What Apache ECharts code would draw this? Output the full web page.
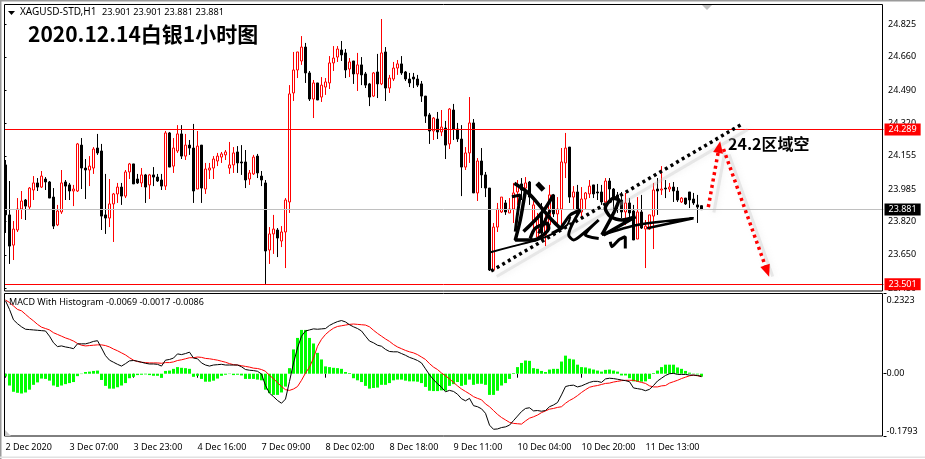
<!DOCTYPE html>
<html><head><meta charset="utf-8">
<style>html,body{margin:0;padding:0;background:#fff}#c{width:925px;height:459px}</style>
<script src="https://cdn.jsdelivr.net/npm/echarts@6/dist/echarts.min.js"></script>
</head><body><div id="c"></div>
<script>
const tickLabels=['2 Dec 2020','3 Dec 07:00','3 Dec 23:00','4 Dec 16:00','7 Dec 09:00','8 Dec 02:00','8 Dec 18:00','9 Dec 11:00','10 Dec 04:00','10 Dec 20:00','11 Dec 13:00'];
const priceTicks=[24.825,24.66,24.49,24.32,24.155,23.985,23.82,23.65,23.48];
const macdTicks=[-0.1793,0,0.2323];
const resistance=24.289, support=23.501, lastPrice=23.881;
const opens=[24.109,23.854,23.7,23.777,23.884,23.93,23.894,23.981,24.017,23.996,
24.037,24.022,23.945,23.803,23.869,24.022,24.007,23.976,23.976,24.21,
24.093,24.083,24.093,24.195,24.18,23.854,23.838,23.91,23.961,23.996,
23.95,24.073,24.114,24.037,24.017,24.058,24.007,24.058,24.047,24.032,
24.001,24.272,24.103,24.18,24.267,24.154,24.21,24.195,23.986,24.21,
23.986,24.083,24.093,24.129,24.149,24.16,24.093,24.109,24.175,24.124,
24.124,24.037,24.063,24.154,24.052,24.017,23.675,23.757,23.777,23.721,
23.767,23.92,24.476,24.593,24.639,24.71,24.578,24.445,24.527,24.455,
24.506,24.527,24.629,24.659,24.695,24.68,24.598,24.639,24.573,24.619,
24.573,24.522,24.46,24.583,24.522,24.685,24.501,24.547,24.603,24.624,
24.583,24.547,24.557,24.547,24.522,24.46,24.364,24.282,24.343,24.277,
24.297,24.216,24.389,24.292,24.241,24.098,24.17,24.323,23.966,24.129,
24.058,23.991,23.573,23.792,23.869,23.915,23.864,23.884,23.971,24.012,
23.991,24.022,23.818,23.741,23.864,23.752,23.803,23.956,23.859,23.884,
24.119,24.2,23.945,23.971,23.869,23.935,23.961,24.007,23.971,23.971,
23.92,24.027,23.986,23.956,23.93,23.869,23.915,23.874,23.731,23.869,
23.782,23.782,23.848,23.986,23.981,23.991,23.986,23.996,23.976,23.92,
23.94,23.971,23.935,23.905,23.901];
const closes=[23.854,23.695,23.782,23.884,23.925,23.899,23.991,24.017,23.996,24.052,
24.022,23.94,23.797,23.874,24.017,24.001,23.976,23.986,24.216,24.093,
24.083,24.103,24.19,24.17,23.848,23.838,23.91,23.961,23.996,23.95,
24.073,24.114,24.012,24.017,24.058,23.996,24.058,24.047,24.027,24.001,
24.272,24.098,24.195,24.267,24.154,24.21,24.195,23.976,24.205,23.991,
24.088,24.093,24.139,24.154,24.165,24.175,24.109,24.17,24.119,24.119,
24.032,24.068,24.149,24.068,24.032,23.67,23.757,23.782,23.736,23.767,
23.93,24.471,24.593,24.685,24.71,24.578,24.445,24.527,24.44,24.516,
24.532,24.629,24.654,24.7,24.67,24.593,24.634,24.573,24.619,24.568,
24.516,24.455,24.578,24.522,24.68,24.501,24.552,24.603,24.624,24.578,
24.547,24.527,24.547,24.516,24.46,24.358,24.282,24.348,24.277,24.302,
24.21,24.394,24.292,24.241,24.098,24.17,24.323,23.966,24.129,24.058,
23.991,23.573,23.792,23.884,23.945,23.869,23.884,23.966,24.007,23.981,
24.017,23.945,23.905,23.843,23.762,23.838,23.956,23.859,23.884,24.124,
24.195,23.945,23.971,23.879,23.935,23.966,24.001,23.961,23.966,23.92,
24.027,23.986,23.945,23.93,23.869,23.915,23.864,23.726,23.869,23.787,
23.797,23.854,23.981,23.976,23.986,23.986,23.996,23.976,23.93,23.94,
23.91,23.93,23.915,23.894,23.881];
const lows=[23.762,23.604,23.624,23.767,23.833,23.828,23.884,23.93,23.976,23.991,
23.981,23.94,23.782,23.797,23.859,23.93,23.93,23.899,23.971,23.986,
23.935,24.001,24.063,24.16,23.777,23.757,23.792,23.716,23.915,23.905,
23.94,24.037,24.012,24.012,23.996,23.915,23.935,24.001,24.022,23.981,
23.981,24.098,24.068,24.17,24.139,24.134,24.16,23.915,23.986,23.915,
23.961,24.037,24.037,24.103,24.119,24.134,24.063,24.068,24.068,24.058,
23.991,24.007,24.058,24.042,24.001,23.502,23.604,23.655,23.639,23.69,
23.583,23.864,24.435,24.552,24.619,24.527,24.435,24.348,24.44,24.43,
24.466,24.496,24.588,24.634,24.639,24.552,24.557,24.522,24.486,24.516,
24.501,24.409,24.455,24.45,24.516,24.435,24.476,24.537,24.568,24.568,
24.537,24.506,24.501,24.506,24.43,24.323,24.216,24.236,24.241,24.256,
24.139,24.19,24.236,24.226,23.95,24.083,24.119,23.966,23.925,23.991,
23.945,23.568,23.573,23.767,23.864,23.854,23.864,23.813,23.905,23.93,
23.966,23.905,23.762,23.736,23.726,23.695,23.803,23.843,23.792,23.792,
24.042,23.915,23.879,23.879,23.843,23.879,23.94,23.94,23.93,23.905,
23.915,23.915,23.864,23.864,23.838,23.803,23.818,23.726,23.731,23.782,
23.583,23.777,23.68,23.854,23.956,23.94,23.971,23.92,23.92,23.915,
23.905,23.889,23.905,23.813,23.881];
const highs=[24.134,24.027,23.823,23.94,23.976,23.935,23.996,24.052,24.042,24.078,
24.047,24.027,23.991,23.905,24.083,24.032,24.017,24.007,24.221,24.246,
24.139,24.154,24.2,24.267,24.216,24.063,24.037,23.966,24.017,24.017,
24.083,24.119,24.114,24.063,24.093,24.063,24.063,24.098,24.063,24.063,
24.282,24.277,24.246,24.312,24.312,24.267,24.236,24.318,24.282,24.21,
24.119,24.119,24.154,24.17,24.175,24.185,24.226,24.2,24.205,24.21,
24.185,24.083,24.16,24.165,24.078,24.032,23.792,23.854,23.787,23.797,
23.94,24.516,24.685,24.685,24.766,24.731,24.588,24.542,24.527,24.557,
24.552,24.664,24.715,24.715,24.741,24.7,24.654,24.639,24.68,24.659,
24.583,24.527,24.583,24.675,24.853,24.71,24.568,24.634,24.644,24.664,
24.588,24.578,24.578,24.568,24.537,24.46,24.374,24.353,24.379,24.389,
24.333,24.399,24.42,24.323,24.312,24.2,24.455,24.343,24.144,24.195,
24.073,23.991,23.813,23.915,23.945,23.93,23.94,24.017,24.032,24.042,
24.047,24.027,23.93,23.864,23.915,23.864,24.007,23.961,23.945,24.195,
24.272,24.2,24.001,24.007,23.996,23.971,24.032,24.007,24.012,24.007,
24.042,24.042,23.991,23.971,23.971,23.966,23.94,23.905,23.945,23.956,
23.828,23.854,24.017,24.042,24.103,24.032,24.017,24.022,23.996,23.945,
23.94,23.971,23.966,23.956,23.901];
const macdHist=[-.008,-.034,-.052,-.055,-.057,-.054,-.046,-.032,-.025,-.014,
-.015,-.02,-.034,-.038,-.034,-.03,-.027,-.024,-.007,-.001,
.005,.006,.008,.009,-.018,-.035,-.043,-.043,-.039,-.034,
-.027,-.013,-.009,-.004,-.003,-.002,-.004,-.006,-.006,-.012,
.008,.009,.014,.019,.017,.016,.014,-.009,-.006,-.015,
-.023,-.023,-.02,-.014,-.006,-.003,-.001,-.004,-.003,-.005,
-.015,-.015,-.015,-.017,-.019,-.046,-.056,-.061,-.061,-.054,
-.037,.016,.07,.103,.126,.126,.103,.087,.06,.041,
.021,.019,.017,.016,.014,.005,.002,-.013,-.019,-.024,
-.035,-.043,-.041,-.04,-.032,-.032,-.027,-.019,-.017,-.017,
-.02,-.022,-.022,-.023,-.027,-.038,-.049,-.05,-.05,-.048,
-.049,-.035,-.03,-.024,-.035,-.032,-.017,-.032,-.029,-.029,
-.032,-.061,-.061,-.049,-.034,-.027,-.015,.002,.019,.031,
.038,.037,.016,.014,.008,.005,.012,.014,.014,.035,
.052,.043,.041,.026,.019,.018,.015,.012,.009,.006,
.011,.012,.009,.006,-.005,-.005,-.013,-.022,-.023,-.023,
-.022,-.015,.002,.009,.019,.026,.026,.026,.018,.014,
.008,.003,-.001,-.002,-.0086];
const macdMain=[.21,.185,.155,.144,.135,.128,.127,.126,.125,.124,
.123,.108,.089,.078,.08,.077,.075,.072,.086,.086,
.086,.089,.093,.095,.074,.052,.039,.033,.027,.022,
.029,.037,.038,.036,.033,.03,.028,.028,.027,.022,
.039,.041,.045,.057,.055,.058,.062,.045,.043,.031,
.025,.022,.025,.026,.027,.025,.025,.025,.025,.02,
.012,.01,.009,.007,-.001,-.034,-.056,-.066,-.077,-.085,
-.073,-.022,.031,.074,.108,.123,.126,.129,.128,.129,
.13,.139,.145,.15,.153,.149,.141,.135,.13,.123,
.108,.094,.089,.082,.079,.07,.064,.063,.063,.058,
.053,.047,.043,.038,.031,.014,-.003,-.017,-.029,-.039,
-.052,-.048,-.051,-.059,-.072,-.078,-.071,-.092,-.095,-.101,
-.114,-.148,-.16,-.159,-.155,-.153,-.148,-.135,-.122,-.109,
-.1,-.098,-.107,-.106,-.108,-.106,-.095,-.09,-.083,-.061,
-.037,-.034,-.033,-.038,-.035,-.03,-.025,-.022,-.022,-.025,
-.015,-.013,-.014,-.016,-.018,-.02,-.023,-.041,-.043,-.045,
-.049,-.045,-.034,-.021,-.013,-.005,0,.001,-.002,-.002,
-.002,-.004,-.004,-.005,-.0086];
const macdSignal=[.212,.205,.195,.185,.181,.171,.161,.152,.142,.134,
.13,.126,.118,.113,.108,.103,.099,.094,.087,.082,
.08,.081,.082,.083,.083,.081,.077,.071,.066,.06,
.054,.046,.039,.035,.033,.032,.031,.031,.031,.03,
.032,.032,.034,.038,.04,.043,.046,.046,.048,.047,
.044,.043,.041,.039,.036,.033,.029,.026,.025,.023,
.021,.019,.016,.015,.012,.007,-.005,-.014,-.026,-.037,
-.046,-.048,-.044,-.037,-.019,.002,.019,.045,.079,.099,
.113,.123,.131,.136,.138,.14,.142,.143,.142,.141,
.14,.135,.125,.116,.108,.1,.093,.084,.077,.072,
.067,.063,.06,.055,.048,.041,.029,.019,.012,.002,
-.006,-.015,-.025,-.035,-.044,-.051,-.058,-.066,-.071,-.075,
-.087,-.095,-.106,-.117,-.126,-.133,-.14,-.143,-.144,-.145,
-.136,-.128,-.124,-.119,-.112,-.107,-.102,-.1,-.097,-.095,
-.085,-.077,-.071,-.063,-.054,-.046,-.039,-.036,-.034,-.031,
-.028,-.027,-.024,-.022,-.02,-.019,-.019,-.019,-.022,-.025,
-.028,-.035,-.038,-.038,-.035,-.034,-.027,-.023,-.019,-.014,
-.01,-.006,-.004,-.006,-.0069];
// hand-drawn annotations, in [slot, price]
const trendDots=[[121.9,23.568],[184.7,24.318]];
const arrowUp=[[176.2,23.894],[178.9,24.2]];
const arrowDown=[[180,24.19],[190.9,23.568]];
const signature=[
 {w:2,p:[[121.3,23.661],[127.5,23.695],[133.4,23.726],[136.7,23.752],[140.9,23.803],[141.7,23.845]]},
 {w:3.5,p:[[127.7,24.015],[131.3,23.964],[134.6,23.888],[137.1,23.828],[139.2,23.786]]},
 {w:3,p:[[127.1,23.947],[129.2,23.956],[128.4,23.845],[127.95,23.769]]},
 {w:3.5,p:[[130.45,23.973],[129.2,23.828],[127.95,23.726],[132.5,23.726],[136.3,23.786],[135.9,23.811],[132.95,23.786],[131.7,23.735]]},
 {w:3.5,p:[[137.5,23.956],[135.45,23.888],[132.95,23.828],[130,23.769]]},
 {w:5,p:[[133.4,24.015],[135,23.981]]},
 {w:3,p:[[136.7,23.879],[133.8,23.76]]},
 {w:3,p:[[137.1,23.76],[139.2,23.786],[141.7,23.854],[144.2,23.879],[141.3,23.752],[142.5,23.726],[145.5,23.769],[148.8,23.828],[145.45,23.752],[148.8,23.734]]},
 {w:3.5,p:[[149.6,23.752],[152.5,23.862],[153.8,23.93],[152.5,23.939],[150.45,23.888],[151.7,23.845],[154.6,23.828],[158,23.845],[150,23.752]]},
 {w:2.5,p:[[149.6,23.752],[158.4,23.803],[172.5,23.837],[160.9,23.786]]},
 {w:3,p:[[151.7,23.717],[152.1,23.692],[153.8,23.726],[155.45,23.743],[155.45,23.683]]}
];

const FONT='"Noto Sans"', SLOTS=220, SMALL=9;
const categories=Array.from({length:SLOTS},(_,i)=>i%16===0&&tickLabels[i/16]?tickLabels[i/16]:'');
const candle=opens.map((o,i)=>[o,closes[i],lows[i],highs[i]]);
const shadowOf=pts=>pts.map(p=>[p[0]+1.4,p[1]-0.028]);
const levelSeries=(value,color,bg)=>({type:'line',xAxisIndex:0,yAxisIndex:0,data:[],silent:true,z:3,
  markLine:{silent:true,symbol:'none',animation:false,precision:3,lineStyle:{color,width:1,type:'solid'},
   data:[{yAxis:value,label:{show:true,position:'end',distance:1,formatter:p=>Number(p.value).toFixed(3),color:'#fff',backgroundColor:bg,fontFamily:FONT,fontSize:SMALL,padding:[1,4,1,4],lineHeight:10}}]}});
const shade=(data)=>({type:'line',xAxisIndex:2,yAxisIndex:0,data:shadowOf(data),silent:true,z:6,symbol:'none',showSymbol:false,
  lineStyle:{color:'rgba(190,190,190,.3)',width:3,shadowColor:'rgba(170,170,170,.7)',shadowBlur:6}});
const annot=(data,color,extra)=>Object.assign({type:'line',xAxisIndex:2,yAxisIndex:0,data,silent:true,z:8,showSymbol:false,symbol:'none',
  lineStyle:{color,width:3.5,type:[3,3.5],cap:'butt'}},extra||{});
const head=(pt,rot)=>({value:pt,symbol:'triangle',symbolSize:[10,12],symbolRotate:rot,itemStyle:{color:'#f00'}});

const chart=echarts.init(document.getElementById('c'),null,{renderer:'canvas'});
chart.setOption({
 animation:false,backgroundColor:'#fff',
 title:[
  {text:'XAGUSD-STD,H1',left:20,top:7.5,padding:0,textStyle:{fontFamily:FONT,fontSize:10,fontWeight:'normal',color:'#000'}},
  {text:'23.901 23.901 23.881 23.881',left:102,top:8,padding:0,textStyle:{fontFamily:FONT,fontSize:9.2,fontWeight:'normal',color:'#000'}},
  {text:'2020.12.14白银1小时图',left:28,top:24,padding:0,textStyle:{fontFamily:'"Noto Sans CJK SC"',fontSize:21,fontWeight:'bold',color:'#000'}},
  {text:'24.2区域空',left:728,top:136,padding:0,textStyle:{fontFamily:'"Noto Sans CJK SC"',fontSize:16,fontWeight:'bold',color:'#000'}},
  {text:'MACD With Histogram -0.0069 -0.0017 -0.0086',left:9,top:298,padding:0,textStyle:{fontFamily:FONT,fontSize:SMALL,fontWeight:'normal',color:'#000'}}
 ],
 grid:[
  {left:3.5,top:4.5,width:880,height:286.5,containLabel:false},
  {left:3.5,top:293,width:880,height:143,containLabel:false}
 ],
 xAxis:[
  {type:'category',gridIndex:0,data:categories,axisLine:{show:false},axisTick:{show:false},axisLabel:{show:false}},
  {type:'category',gridIndex:1,data:categories,axisLine:{show:false},
   axisTick:{show:true,length:4,alignWithLabel:true,interval:i=>i%16===0&&i<=160,lineStyle:{color:'#000'}},
   axisLabel:{interval:i=>i%16===0&&i<=160,align:'left',margin:7,color:'#000',fontFamily:FONT,fontSize:SMALL,hideOverlap:false}},
  {type:'value',gridIndex:0,min:0,max:SLOTS,show:false}
 ],
 yAxis:[
  {type:'value',gridIndex:0,position:'right',min:23.466,max:24.927,splitLine:{show:false},axisLine:{show:false},
   axisTick:{show:true,length:3,customValues:priceTicks,lineStyle:{color:'#000'}},
   axisLabel:{customValues:priceTicks,formatter:v=>v.toFixed(3),margin:4.5,padding:[2,0,0,0],color:'#000',fontFamily:FONT,fontSize:SMALL}},
  {type:'value',gridIndex:1,position:'right',min:-0.1793,max:0.2323,splitLine:{show:false},axisLine:{show:false},
   axisTick:{show:true,length:3,customValues:macdTicks,lineStyle:{color:'#000'}},
   axisLabel:{customValues:macdTicks,formatter:v=>v===0?'0.00':String(v),margin:3,padding:[3,0,0,0],color:'#000',fontFamily:FONT,fontSize:SMALL,verticalAlignMaxLabel:'top',verticalAlignMinLabel:'bottom'}}
 ],
 series:[
  levelSeries(lastPrice,'#c0c0c0','#000'),
  {type:'candlestick',xAxisIndex:0,yAxisIndex:0,data:candle,barWidth:2,clip:false,z:4,
   itemStyle:{color:'#fff',color0:'#000',borderColor:'#f00',borderColor0:'#000',borderWidth:1}},
  Object.assign(levelSeries(resistance,'#ff0000','#ff0000'),{z:5}),
  Object.assign(levelSeries(support,'#ff0000','#ff0000'),{z:5}),
  shade(trendDots),shade(arrowUp),shade(arrowDown),
  annot(trendDots,'#000'),
  annot([arrowUp[0],head(arrowUp[1],-10)],'#f00',{showSymbol:true}),
  annot([arrowDown[0],head(arrowDown[1],-160)],'#f00',{showSymbol:true}),
  ...signature.map(s=>({type:'line',xAxisIndex:2,yAxisIndex:0,data:s.p,silent:true,z:9,symbol:'none',showSymbol:false,smooth:0.25,lineStyle:{color:'#000',width:s.w}})),
  {type:'bar',xAxisIndex:1,yAxisIndex:1,data:macdHist,barWidth:3,itemStyle:{color:'#00ff00'},z:2},
  {type:'line',xAxisIndex:1,yAxisIndex:1,data:macdSignal,symbol:'none',showSymbol:false,lineStyle:{color:'#f00',width:1},z:3},
  {type:'line',xAxisIndex:1,yAxisIndex:1,data:macdMain,symbol:'none',showSymbol:false,lineStyle:{color:'#000',width:1},z:4}
 ],
 graphic:[
  {type:'rect',z:19,silent:true,shape:{x:1.5,y:0,width:2.5,height:459},style:{fill:'#fff'}},
  {type:'rect',z:20,silent:true,shape:{x:4.5,y:4.5,width:878,height:286.5},style:{fill:'none',stroke:'#000',lineWidth:1}},
  {type:'rect',z:20,silent:true,shape:{x:4.5,y:293.5,width:878,height:142.5},style:{fill:'none',stroke:'#000',lineWidth:1}},
  {type:'rect',z:21,silent:true,shape:{x:0,y:0,width:925,height:1.5},style:{fill:'#9a9a9a'}},
  {type:'rect',z:21,silent:true,shape:{x:0,y:0,width:1.5,height:459},style:{fill:'#9a9a9a'}},
  {type:'rect',z:21,silent:true,shape:{x:0,y:456.5,width:925,height:1.5},style:{fill:'#e2e2e2'}},
  {type:'polygon',z:21,silent:true,shape:{points:[[8,11],[15,11],[11.5,15]]},style:{fill:'#000'}},
  {type:'polygon',z:21,silent:true,shape:{points:[[702,5],[712,5],[707,10]]},style:{fill:'#c0c0c0'}},
  {type:'polygon',z:21,silent:true,shape:{points:[[5,430],[5,436],[11,436]]},style:{fill:'#c8c8c8'}}
 ]
});
</script></body></html>
